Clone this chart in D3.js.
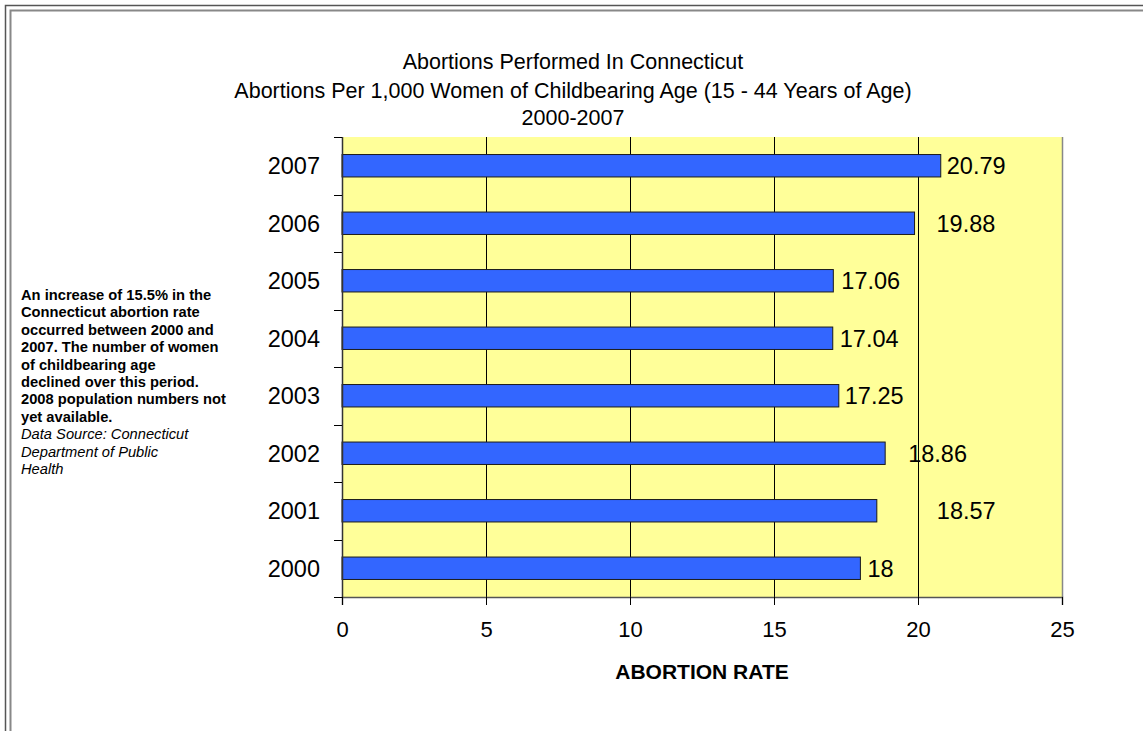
<!DOCTYPE html>
<html>
<head>
<meta charset="utf-8">
<script src="https://cdn.jsdelivr.net/npm/d3@7"></script>
<style>
  html, body { margin: 0; padding: 0; background: #fff; }
  svg { display: block; font-family: "Liberation Sans", Arial, sans-serif; }
</style>
</head>
<body>
<svg id="chart" width="1143" height="731"></svg>
<script>
// ── DATA ─────────────────────────────────────────────────────────────────────
const years = ['2000', '2001', '2002', '2003', '2004', '2005', '2006', '2007'];
const rates = [18, 18.57, 18.86, 17.25, 17.04, 17.06, 19.88, 20.79];
const rateLabels = ['18', '18.57', '18.86', '17.25', '17.04', '17.06', '19.88', '20.79'];
const xTicks = [0, 5, 10, 15, 20, 25];

const titleLines = [
  'Abortions Performed In Connecticut',
  'Abortions Per 1,000 Women of Childbearing Age (15 - 44 Years of Age)',
  '2000-2007'
];
const noteBold = [
  'An increase of 15.5% in the',
  'Connecticut abortion rate',
  'occurred between 2000 and',
  '2007. The number of women',
  'of childbearing age',
  'declined over this period.',
  '2008 population numbers not',
  'yet available.'
];
const noteItalic = [
  'Data Source: Connecticut',
  'Department of Public',
  'Health'
];

// ── LAYOUT ───────────────────────────────────────────────────────────────────
const plot = { left: 342, right: 1062, top: 137, bottom: 597 };
// label nudges as placed in the original (px right of bar end)
const labelDx = { '2000': 7, '2001': 60, '2002': 23, '2003': 6, '2004': 7, '2005': 8, '2006': 22, '2007': 6 };
const titleBaselines = [69, 98, 125];

const svg = d3.select('#chart');

// page frame
svg.append('rect').attr('x', 5.5).attr('y', 5.5).attr('width', 1200).attr('height', 800)
  .attr('fill', 'none').attr('stroke', '#555').attr('stroke-width', 1.5);
svg.append('rect').attr('x', 10.5).attr('y', 10.5).attr('width', 1200).attr('height', 800)
  .attr('fill', 'none').attr('stroke', '#888').attr('stroke-width', 2);

const x = d3.scaleLinear().domain([0, 25]).range([plot.left, plot.right]);
const y = d3.scaleBand().domain(years.slice().reverse()).range([plot.top, plot.bottom]).padding(0);
const barH = y.bandwidth() * 0.39;

// plot background
svg.append('rect')
  .attr('x', plot.left).attr('y', plot.top)
  .attr('width', plot.right - plot.left).attr('height', plot.bottom - plot.top)
  .attr('fill', '#ffff99');

// gridlines
svg.append('g').selectAll('line')
  .data(xTicks.filter(t => t > 0 && t < 25))
  .join('line')
  .attr('x1', d => x(d) + 0.5).attr('x2', d => x(d) + 0.5)
  .attr('y1', plot.top).attr('y2', plot.bottom)
  .attr('stroke', '#000').attr('stroke-width', 1);

// plot border right
svg.append('line')
  .attr('x1', plot.right + 0.5).attr('x2', plot.right + 0.5)
  .attr('y1', plot.top).attr('y2', plot.bottom)
  .attr('stroke', '#888').attr('stroke-width', 1.5);

// bars
svg.append('g').selectAll('rect')
  .data(years)
  .join('rect')
  .attr('x', plot.left)
  .attr('y', d => y(d) + (y.bandwidth() - barH) / 2)
  .attr('width', (d, i) => x(rates[i]) - plot.left)
  .attr('height', barH)
  .attr('fill', '#3366ff')
  .attr('stroke', '#1a1a1a').attr('stroke-width', 1);

// value labels
svg.append('g').selectAll('text')
  .data(years)
  .join('text')
  .attr('x', (d, i) => x(rates[i]) + labelDx[d])
  .attr('y', d => y(d) + y.bandwidth() / 2)
  .attr('dy', '0.36em')
  .attr('font-size', 23.5)
  .attr('fill', '#000')
  .text((d, i) => rateLabels[i]);

// x axis
const xAxis = svg.append('g')
  .attr('transform', `translate(0,${plot.bottom})`)
  .call(d3.axisBottom(x).tickValues(xTicks).tickSize(8).tickPadding(16).tickFormat(d3.format('d')));
xAxis.select('.domain').attr('stroke', '#555').attr('stroke-width', 1.5);
xAxis.selectAll('.tick line').attr('stroke', '#000');
xAxis.selectAll('text').attr('font-size', 22).attr('fill', '#000')
  .attr('font-family', '"Liberation Sans", Arial, sans-serif');

// y axis: line + ticks at category boundaries
const yAxis = svg.append('g');
yAxis.append('line')
  .attr('x1', plot.left + 0.5).attr('x2', plot.left + 0.5)
  .attr('y1', plot.top).attr('y2', plot.bottom)
  .attr('stroke', '#333').attr('stroke-width', 1.5);
const bounds = y.domain().map(d => y(d)).concat([plot.bottom]);
yAxis.selectAll('line.tk')
  .data(bounds)
  .join('line').attr('class', 'tk')
  .attr('x1', plot.left - 8).attr('x2', plot.left)
  .attr('y1', d => Math.round(d) + 0.5).attr('y2', d => Math.round(d) + 0.5)
  .attr('stroke', '#000');
yAxis.selectAll('text')
  .data(years)
  .join('text')
  .attr('x', 320)
  .attr('y', d => y(d) + y.bandwidth() / 2)
  .attr('dy', '0.36em')
  .attr('text-anchor', 'end')
  .attr('font-size', 23.5)
  .text(d => d);

// titles
svg.append('g').selectAll('text')
  .data(titleLines)
  .join('text')
  .attr('x', 573)
  .attr('y', (d, i) => titleBaselines[i])
  .attr('text-anchor', 'middle')
  .attr('font-size', 21.5)
  .text(d => d);

svg.append('text')
  .attr('x', (plot.left + plot.right) / 2)
  .attr('y', 679)
  .attr('text-anchor', 'middle')
  .attr('font-size', 21)
  .attr('font-weight', 'bold')
  .text('ABORTION RATE');

// side note
const note = svg.append('g').attr('font-size', 14.7);
note.selectAll('text.b')
  .data(noteBold)
  .join('text').attr('class', 'b')
  .attr('x', 21).attr('y', (d, i) => 300 + i * 17.4)
  .attr('font-weight', 'bold')
  .text(d => d);
note.selectAll('text.i')
  .data(noteItalic)
  .join('text').attr('class', 'i')
  .attr('x', 21).attr('y', (d, i) => 300 + (noteBold.length + i) * 17.4)
  .attr('font-style', 'italic')
  .text(d => d);
</script>
</body>
</html>
